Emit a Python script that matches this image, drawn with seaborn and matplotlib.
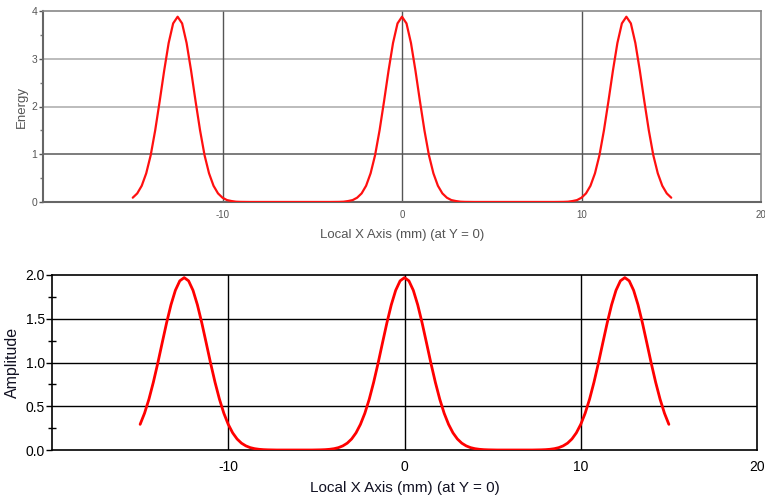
import numpy as np
import pandas as pd
import matplotlib
matplotlib.use("Agg")
import matplotlib.pyplot as plt
import seaborn as sns
from matplotlib.ticker import FixedLocator

# ---- data (step 0.25 mm from -15 to 15) ----
x_mm = np.linspace(-15, 15, 121)

amplitude = [
    0.293, 0.420, 0.581, 0.774, 0.991, 1.223, 1.452, 1.659, 1.825, 1.933, 1.970,
    1.933, 1.825, 1.659, 1.452, 1.223, 0.991, 0.774, 0.581, 0.420, 0.293, 0.196, 0.126,
    0.078, 0.047, 0.027, 0.015, 0.008, 0.004, 0.002, 0.001, 0.000, 0.000, 0.000, 0.000, 0.000,
    0.000, 0.000, 0.000, 0.000, 0.001, 0.002, 0.004, 0.008, 0.015, 0.027, 0.047, 0.078,
    0.126, 0.196, 0.293, 0.420, 0.581, 0.774, 0.991, 1.223, 1.452, 1.659, 1.825, 1.933, 1.970,
    1.933, 1.825, 1.659, 1.452, 1.223, 0.991, 0.774, 0.581, 0.420, 0.293, 0.196, 0.126,
    0.078, 0.047, 0.027, 0.015, 0.008, 0.004, 0.002, 0.001, 0.000, 0.000, 0.000, 0.000, 0.000,
    0.000, 0.000, 0.000, 0.000, 0.001, 0.002, 0.004, 0.008, 0.015, 0.027, 0.047, 0.078,
    0.126, 0.196, 0.293, 0.420, 0.581, 0.774, 0.991, 1.223, 1.452, 1.659, 1.825, 1.933, 1.970,
    1.933, 1.825, 1.659, 1.452, 1.223, 0.991, 0.774, 0.581, 0.420, 0.293,
]

energy = [
    0.09, 0.18, 0.34, 0.60, 0.98, 1.50, 2.11, 2.75, 3.33, 3.74, 3.88,
    3.74, 3.33, 2.75, 2.11, 1.50, 0.98, 0.60, 0.34, 0.18, 0.09, 0.04, 0.02,
    0.006, 0.002, 0.001, 0.0, 0.0, 0.0, 0.0, 0.0, 0.0, 0.0, 0.0, 0.0, 0.0,
    0.0, 0.0, 0.0, 0.0, 0.0, 0.0, 0.0, 0.0, 0.0, 0.001, 0.002, 0.006,
    0.02, 0.04, 0.09, 0.18, 0.34, 0.60, 0.98, 1.50, 2.11, 2.75, 3.33, 3.74, 3.88,
    3.74, 3.33, 2.75, 2.11, 1.50, 0.98, 0.60, 0.34, 0.18, 0.09, 0.04, 0.02,
    0.006, 0.002, 0.001, 0.0, 0.0, 0.0, 0.0, 0.0, 0.0, 0.0, 0.0, 0.0, 0.0,
    0.0, 0.0, 0.0, 0.0, 0.0, 0.0, 0.0, 0.0, 0.0, 0.001, 0.002, 0.006,
    0.02, 0.04, 0.09, 0.18, 0.34, 0.60, 0.98, 1.50, 2.11, 2.75, 3.33, 3.74, 3.88,
    3.74, 3.33, 2.75, 2.11, 1.50, 0.98, 0.60, 0.34, 0.18, 0.09,
]

x_major = [-10, 0, 10, 20]
x_major_labels = ["-10", "0", "10", "20"]
x_minor = [-15, -5, 5, 15]

energy_ticks = [0, 1, 2, 3, 4]
energy_minor = [0.5, 1.5, 2.5, 3.5]
amp_ticks = [0.0, 0.5, 1.0, 1.5, 2.0]
amp_tick_labels = ["0.0", "0.5", "1.0", "1.5", "2.0"]
amp_minor = [0.25, 0.75, 1.25, 1.75]

x_label = "Local X Axis (mm) (at Y = 0)"

df = pd.DataFrame({"x": x_mm, "Energy": energy, "Amplitude": amplitude})

sns.set_style("white")
plt.rcParams["font.family"] = ["Liberation Sans", "DejaVu Sans"]
plt.rcParams["lines.solid_joinstyle"] = "round"

fig = plt.figure(figsize=(7.65, 5.0), dpi=100)

# ---------------- top panel ----------------
ax1 = fig.add_axes([43 / 765, 1 - 202 / 500, (761 - 43) / 765, (202 - 11) / 500])
gray_text = "#555555"
for yv, col in [(1, "#666666"), (2, "#b0b0b0"), (3, "#b0b0b0")]:
    ax1.axhline(yv, color=col, lw=1.2, zorder=1)
for xv in [-10, 0, 10]:
    ax1.axvline(xv, color="#555555", lw=1.0, zorder=1)
sns.lineplot(data=df, x="x", y="Energy", ax=ax1, color="#ff1010", lw=1.6, zorder=3)
ax1.set_xlim(-20, 20)
ax1.set_ylim(0, 4)
ax1.set_xticks(x_major)
ax1.set_xticklabels(x_major_labels)
ax1.xaxis.set_minor_locator(FixedLocator(x_minor))
ax1.set_yticks(energy_ticks)
ax1.set_yticklabels([str(v) for v in energy_ticks])
ax1.yaxis.set_minor_locator(FixedLocator(energy_minor))
ax1.tick_params(axis="x", which="major", length=0, pad=6, labelsize=7, labelcolor=gray_text)
ax1.tick_params(axis="x", which="minor", direction="inout", length=6, width=1, color="#555555")
ax1.tick_params(axis="y", which="major", direction="out", length=3, width=1, pad=1,
                labelsize=7.5, labelcolor=gray_text, color="#555555", left=True)
ax1.tick_params(axis="y", which="minor", direction="out", length=2, width=1, color="#777777", left=True)
for side in ["top", "right"]:
    ax1.spines[side].set_color("#888888")
    ax1.spines[side].set_linewidth(1.2)
for side in ["left", "bottom"]:
    ax1.spines[side].set_color("#666666")
    ax1.spines[side].set_linewidth(1.5)
ax1.set_xlabel(x_label, fontsize=9.5, color=gray_text, labelpad=6)
ax1.set_ylabel("Energy", fontsize=9.5, color=gray_text, labelpad=3)

# ---------------- bottom panel ----------------
ax2 = fig.add_axes([52 / 765, 1 - 450 / 500, (757 - 52) / 765, (450 - 275) / 500])
for yv in [0.5, 1.0, 1.5]:
    ax2.axhline(yv, color="black", lw=1.0, zorder=1)
for xv in [-10, 0, 10]:
    ax2.axvline(xv, color="black", lw=1.0, zorder=1)
sns.lineplot(data=df, x="x", y="Amplitude", ax=ax2, color="#ff0000", lw=2.0, zorder=3)
ax2.set_xlim(-20, 20)
ax2.set_ylim(0, 2.0)
ax2.set_xticks(x_major)
ax2.set_xticklabels(x_major_labels)
ax2.xaxis.set_minor_locator(FixedLocator(x_minor))
ax2.set_yticks(amp_ticks)
ax2.set_yticklabels(amp_tick_labels)
ax2.yaxis.set_minor_locator(FixedLocator(amp_minor))
ax2.tick_params(axis="x", which="major", length=0, pad=7, labelsize=10, labelcolor="black")
ax2.tick_params(axis="x", which="minor", direction="inout", length=8, width=1, color="black")
ax2.tick_params(axis="y", which="major", direction="out", length=4, width=1, pad=1,
                labelsize=10, labelcolor="black", color="black", left=True)
ax2.tick_params(axis="y", which="minor", direction="inout", length=6, width=1, color="black", left=True)
for side in ["top", "right", "left", "bottom"]:
    ax2.spines[side].set_color("black")
    ax2.spines[side].set_linewidth(1.2)
ax2.set_xlabel(x_label, fontsize=11, color="#111122", labelpad=5)
ax2.set_ylabel("Amplitude", fontsize=11.5, color="#111122", labelpad=4)

fig.savefig("out.png", dpi=100)
